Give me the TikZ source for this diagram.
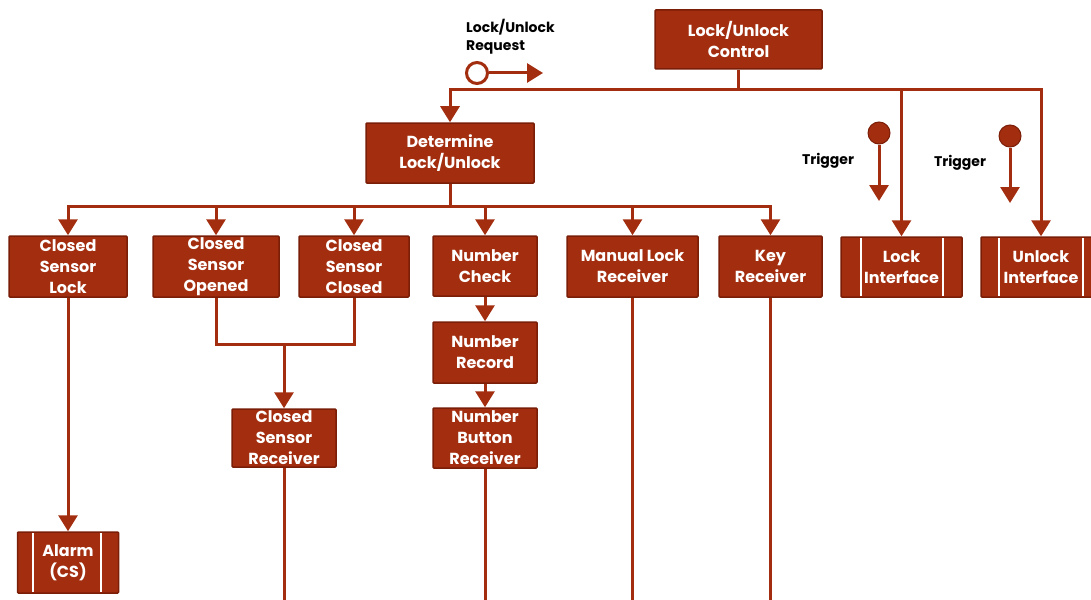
\documentclass[tikz,border=0pt]{standalone}
\usepackage{fontspec}
\setmainfont{Poppins}
\usetikzlibrary{arrows.meta}
\definecolor{rust}{RGB}{163,45,15}
\definecolor{darkrust}{RGB}{122,30,8}
\tikzset{
  boxshape/.style={draw=darkrust, fill=rust, line width=1.5pt, rounded corners=1pt, inner sep=0pt},
  boxtext/.style={text=white, font=\fontsize{16}{21}\selectfont\bfseries, align=center, inner sep=0pt},
  lbl/.style={text=black, font=\fontsize{14}{18}\selectfont\bfseries, align=left, inner sep=0pt},
  wire/.style={draw=rust, line width=3pt},
  arr/.style={wire, -{Triangle[width=19pt,length=16pt]}},
  bar/.style={draw=white, line width=2.5pt},
}
\newcommand{\bx}[6]{%
  \node[boxshape, minimum width=#4pt, minimum height=#5pt] (#1) at (#2,#3) {};
  \node[boxtext] (#1-t) at (#1) {#6};}
\begin{document}
\begin{tikzpicture}[x=1pt,y=-1pt]
\clip (0,0) rectangle (1091,599);
\fill[white] (0,0) rectangle (1091,599);
% boxes
\bx{ctrl}{738.5}{39.5}{167}{59}{Lock/Unlock\\Control}
\bx{det}{450}{153}{168}{60}{Determine\\Lock/Unlock}
\bx{csl}{68}{266.5}{118}{61}{Closed\\Sensor\\Lock}
\bx{cso}{216}{266.5}{126}{61}{Closed\\Sensor\\Opened}
\bx{csc}{354}{266.5}{110}{61}{Closed\\Sensor\\Closed}
\bx{nc}{485}{266}{104}{60}{Number\\Check}
\bx{mlr}{632.5}{266.5}{131}{61}{Manual Lock\\Receiver}
\bx{kr}{770.5}{266.5}{103}{61}{Key\\Receiver}
\bx{nr}{485}{352.5}{104}{61}{Number\\Record}
\bx{nbr}{485}{438}{104}{60}{Number\\Button\\Receiver}
\bx{csr}{284}{438}{104}{58}{Closed\\Sensor\\Receiver}
% interface boxes
\node[boxshape, minimum width=121pt, minimum height=60pt] (li) at (901.5,267) {};
\draw[bar] (861,238) -- (861,296) (943,238) -- (943,296);
\node[boxtext] (li-t) at (li) {Lock\\Interface};
\node[boxshape, minimum width=120pt, minimum height=60pt] (ui) at (1041,267) {};
\draw[bar] (999,238) -- (999,296) (1083,238) -- (1083,296);
\node[boxtext] (ui-t) at (ui) {Unlock\\Interface};
\node[boxshape, minimum width=101pt, minimum height=61pt] (al) at (68,562.5) {};
\draw[bar] (33,533) -- (33,592) (101,533) -- (101,592);
\node[boxtext] (al-t) at (al) {Alarm\\(CS)};
% request
\node[draw=rust, fill=white, line width=3pt, circle, minimum size=21pt, inner sep=0pt] (req) at (477,73) {};
\coordinate (reqend) at (543,73);
\draw[arr] (req.east) -- (reqend);
\node[lbl, anchor=north west] (reqlbl) at (466,19) {Lock/Unlock\\Request};
% triggers
\node[draw=darkrust, fill=rust, line width=1pt, circle, minimum size=22pt, inner sep=0pt] (t1) at (879,133) {};
\coordinate (t1end) at (879,201);
\draw[arr] (t1.south) -- (t1end);
\node[lbl] (t1lbl) at (828,161) {Trigger};
\node[draw=darkrust, fill=rust, line width=1pt, circle, minimum size=22pt, inner sep=0pt] (t2) at (1010,136) {};
\coordinate (t2end) at (1010,203);
\draw[arr] (t2.south) -- (t2end);
\node[lbl] (t2lbl) at (960,163) {Trigger};
% bus from control
\coordinate (b1) at (738.5,90);
\draw[wire] (ctrl.south) -- (b1);
\draw[arr] (b1) -| (det.north);
\draw[arr] (b1) -| (li.north);
\draw[arr] (b1) -| (ui.north);
% bus from determine
\coordinate (b2) at (450,206);
\draw[wire] (det.south) -- (b2);
\foreach \n in {csl,cso,csc,nc,mlr,kr} \draw[arr] (b2) -| (\n.north);
% closed sensor merge
\coordinate (b3) at (284,344);
\draw[wire] (cso.south) |- (b3) -| (csc.south);
\draw[arr] (b3) -- (csr.north);
% chains
\draw[arr] (csl.south) -- (al.north);
\draw[arr] (nc.south) -- (nr.north);
\draw[arr] (nr.south) -- (nbr.north);
% free ends
\foreach \n in {csr,nbr,mlr,kr} {
  \coordinate (\n-end) at (\n.south |- 0,605);
  \draw[wire] (\n.south) -- (\n-end);
}
\end{tikzpicture}
\end{document}
